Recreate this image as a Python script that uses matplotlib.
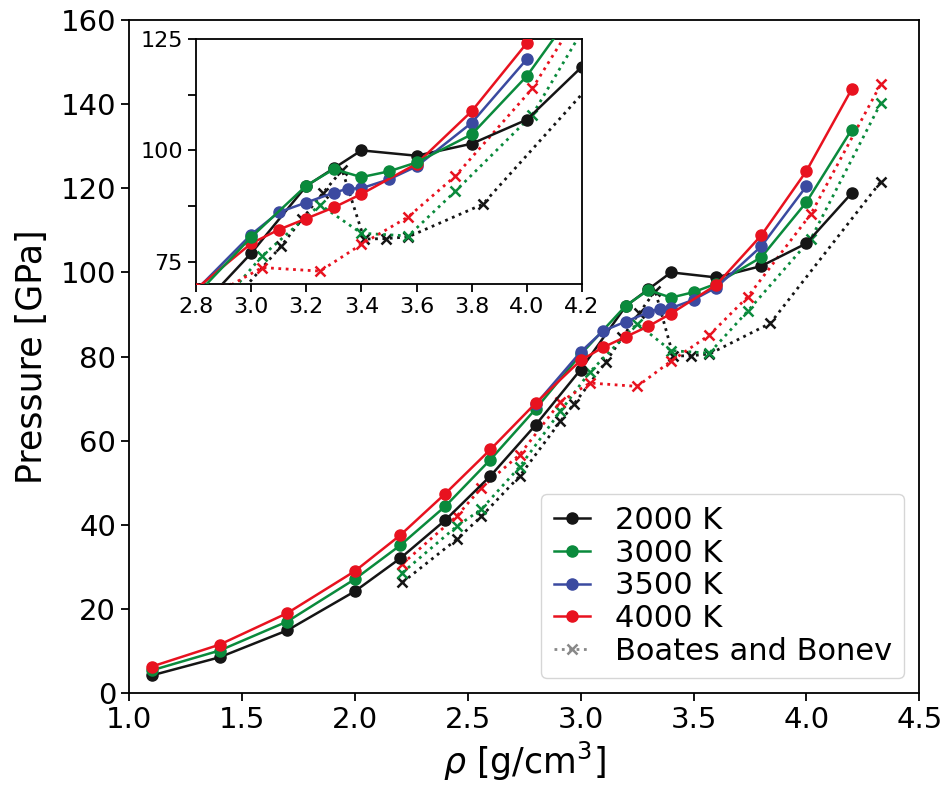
# Pressure vs density isotherms with Boates & Bonev comparison, plus zoomed inset.
import numpy as np
import matplotlib as mpl; mpl.use('Agg')
import matplotlib.pyplot as plt

mpl.rcParams.update({'font.size': 21, 'axes.linewidth': 1.3,
                     'xtick.major.width': 1.3, 'ytick.major.width': 1.3,
                     'xtick.major.size': 6, 'ytick.major.size': 6})

BLK = '#151515'; GRN = '#0a8a3c'; BLU = '#3b4aa0'; RED = '#e8121f'; GRY = '#888888'

# isotherms (this work)
rho_2000 = [1.1, 1.4, 1.7, 2.0, 2.2, 2.4, 2.6, 2.8, 3.0, 3.2, 3.3, 3.4, 3.6, 3.8, 4.0, 4.2]
P_2000 = [4.2, 8.5, 14.9, 24.2, 32.0, 41.1, 51.6, 63.7, 76.9, 92.0, 96.0, 100.0, 98.8, 101.5, 106.9, 118.8]
rho_3000 = [1.1, 1.4, 1.7, 2.0, 2.2, 2.4, 2.6, 2.8, 3.0, 3.2, 3.3, 3.4, 3.5, 3.6, 3.8, 4.0, 4.2]
P_3000 = [5.4, 10.1, 17.0, 27.1, 35.1, 44.4, 55.5, 67.5, 80.5, 92.1, 95.8, 94.0, 95.3, 97.3, 103.6, 116.7, 133.9]
rho_3500 = [2.8, 3.0, 3.1, 3.2, 3.3, 3.35, 3.4, 3.5, 3.6, 3.8, 4.0]
P_3500 = [68.6, 81.1, 86.1, 88.3, 90.5, 91.4, 91.5, 93.5, 96.4, 106.2, 120.5]
rho_4000 = [1.1, 1.4, 1.7, 2.0, 2.2, 2.4, 2.6, 2.8, 3.0, 3.1, 3.2, 3.3, 3.4, 3.6, 3.8, 4.0, 4.2]
P_4000 = [6.3, 11.5, 19.0, 29.0, 37.5, 47.4, 57.9, 68.9, 79.1, 82.2, 84.7, 87.2, 90.2, 97.0, 108.8, 124.1, 143.5]

# Boates and Bonev
bb_rho = [2.21, 2.45, 2.56, 2.73, 2.91, 3.04, 3.25, 3.40, 3.57, 3.74, 4.02, 4.33]
bb_P_4000 = [30.7, 42.0, 48.8, 56.7, 69.2, 73.7, 72.9, 78.9, 85.1, 94.2, 113.9, 144.8]
bb_P_3000 = [28.6, 39.6, 43.7, 53.8, 67.0, 76.3, 87.8, 81.4, 80.8, 90.8, 108.0, 140.3]
bb_rho_2000 = [2.21, 2.45, 2.56, 2.73, 2.91, 2.97, 3.11, 3.185, 3.26, 3.33, 3.41, 3.49, 3.57, 3.84, 4.33]
bb_P_2000 = [26.3, 36.5, 42.0, 51.6, 64.6, 68.7, 78.6, 84.6, 90.4, 95.6, 80.1, 80.2, 80.6, 87.9, 121.6]

solid = [(rho_2000, P_2000, BLK, '2000 K'), (rho_3000, P_3000, GRN, '3000 K'),
         (rho_3500, P_3500, BLU, '3500 K'), (rho_4000, P_4000, RED, '4000 K')]
dotted = [(bb_rho_2000, bb_P_2000, BLK), (bb_rho, bb_P_3000, GRN), (bb_rho, bb_P_4000, RED)]

def draw(ax, ms, order):
    for r, p, c in dotted:
        ax.plot(r, p, ':', color=c, lw=2, marker='x', ms=ms * 0.9, mew=1.8, zorder=2)
    for i in order:
        r, p, c, lab = solid[i]
        ax.plot(r, p, '-', color=c, lw=1.8, marker='o', ms=ms, label=lab, zorder=3 + order.index(i))

fig = plt.figure(figsize=(9.45, 7.87), dpi=100)
ax = fig.add_axes([0.1368, 0.1194, 0.836, 0.8552])
draw(ax, 8, [0, 1, 2, 3])
ax.plot([], [], ':', color=GRY, lw=2, marker='x', ms=7, mew=1.8, label='Boates and Bonev')
ax.set_xlim(1.0, 4.5); ax.set_ylim(0, 160)
ax.set_xticks(np.arange(1.0, 4.51, 0.5))
ax.set_yticks(np.arange(0, 161, 20))
ax.set_xlabel(r'$\rho$ [g/cm$^3$]', fontsize=25, labelpad=4)
ax.set_ylabel('Pressure [GPa]', fontsize=25, labelpad=8)
ax.legend(loc='lower right', fontsize=22, handlelength=1.2, labelspacing=0.12,
          handletextpad=0.8, borderaxespad=0.5, borderpad=0.4)

ins = fig.add_axes([0.2074, 0.6391, 0.4085, 0.3113])
draw(ins, 8, [0, 2, 3, 1])
ins.set_xlim(2.8, 4.2); ins.set_ylim(70, 125)
ins.set_xticks(np.arange(2.8, 4.21, 0.2))
ins.set_yticks([75, 87.5, 100, 112.5, 125])
ins.set_yticklabels(['75', '', '100', '', '125'])
ins.tick_params(labelsize=16)

fig.savefig('out.png', dpi=100)
